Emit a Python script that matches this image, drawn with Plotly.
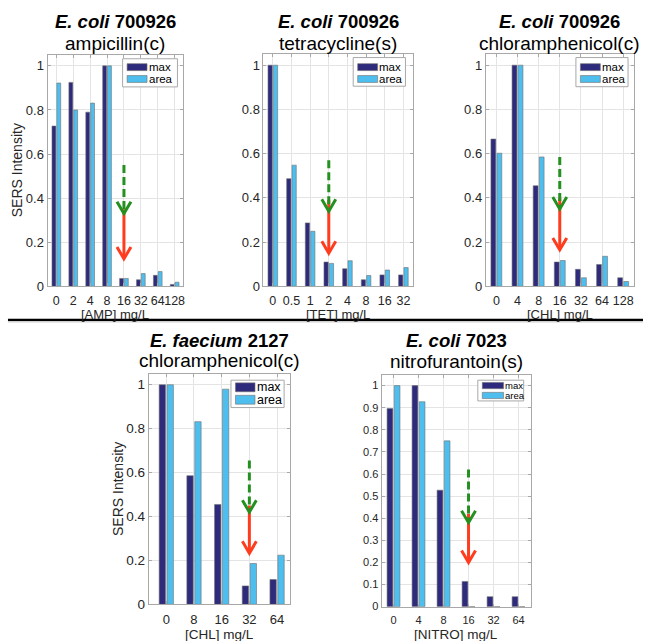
import plotly.graph_objects as go

W, H = 645, 641
FONT = "Liberation Sans, Arial, Helvetica, sans-serif"

# ---------------- data ----------------
amp_conc = ["0", "2", "4", "8", "16", "32", "64", "128"]
amp_max = [0.727, 0.925, 0.79, 1.0, 0.036, 0.03, 0.05, 0.009]
amp_area = [0.922, 0.80, 0.831, 1.0, 0.036, 0.058, 0.067, 0.019]

tet_conc = ["0", "0.5", "1", "2", "4", "8", "16", "32"]
tet_max = [1.0, 0.487, 0.287, 0.11, 0.08, 0.03, 0.052, 0.052]
tet_area = [1.0, 0.548, 0.249, 0.104, 0.116, 0.049, 0.074, 0.085]

chl_conc = ["0", "4", "8", "16", "32", "64", "128"]
chl_max = [0.666, 1.0, 0.455, 0.11, 0.077, 0.099, 0.039]
chl_area = [0.602, 1.0, 0.585, 0.117, 0.039, 0.136, 0.022]

efm_conc = ["0", "8", "16", "32", "64"]
efm_max = [1.0, 0.586, 0.455, 0.084, 0.113]
efm_area = [1.0, 0.832, 0.98, 0.186, 0.224]

nit_conc = ["0", "4", "8", "16", "32", "64"]
nit_max = [0.896, 1.0, 0.527, 0.114, 0.045, 0.045]
nit_area = [1.0, 0.927, 0.75, 0.0, 0.0, 0.0]

yticks_coarse = [0, 0.2, 0.4, 0.6, 0.8, 1]
yticklabels_coarse = ["0", "0.2", "0.4", "0.6", "0.8", "1"]
yticks_fine = [0, 0.1, 0.2, 0.3, 0.4, 0.5, 0.6, 0.7, 0.8, 0.9, 1]
yticklabels_fine = ["0", "0.1", "0.2", "0.3", "0.4", "0.5", "0.6", "0.7", "0.8", "0.9", "1"]

# breakpoint arrows: (category, green start, green tip, red start, red tip)
amp_arrow = ("16", 0.55, 0.33, 0.35, 0.125)
tet_arrow = ("2", 0.57, 0.34, 0.39, 0.15)
chl_arrow = ("16", 0.585, 0.35, 0.40, 0.165)
efm_arrow = ("32", 0.655, 0.42, 0.45, 0.233)
nit_arrow = ("16", 0.62, 0.38, 0.42, 0.20)

series_names = ["max", "area"]

# ---------------- styling / layout ----------------
C_MAX = "#2e2a7c"
C_AREA = "#4dbeee"
C_EDGE = "#707070"
C_GREEN = "#23901f"
C_RED = "#ff3c1e"
GRID = "#e4e4e4"
BOX = "#a8a8a8"
TICKC = "#262626"

panels = [
    dict(species="E. coli", strain="700926", drug="ampicillin(c)", xlabel="[AMP] mg/L",
         conc=amp_conc, vmax=amp_max, varea=amp_area, arrow=amp_arrow,
         box=(47.7, 55.5, 184.0, 290.0), xr=(0.48, 8.52), xtf=12.5, ytf=13,
         yt=yticks_coarse, ytl=yticklabels_coarse, ylabel=True,
         t1=21.4, t2=44.2, xl=310.0, xlf=13,
         leg=dict(x0=123, y0=59.5, w=55, h=28.5, sw=20, sh=7, s1=64.5, s2=76.5, fs=11.5)),
    dict(species="E. coli", strain="700926", drug="tetracycline(s)", xlabel="[TET] mg/L",
         conc=tet_conc, vmax=tet_max, varea=tet_area, arrow=tet_arrow,
         box=(264.3, 54.8, 414.0, 290.0), xr=(0.5, 8.5), xtf=12.5, ytf=13,
         yt=yticks_coarse, ytl=yticklabels_coarse, ylabel=False,
         t1=21.4, t2=44.2, xl=310.0, xlf=13,
         leg=dict(x0=354.3, y0=58.3, w=52.4, h=29, sw=20, sh=7, s1=64.5, s2=76.5, fs=11.5)),
    dict(species="E. coli", strain="700926", drug="chloramphenicol(c)", xlabel="[CHL] mg/L",
         conc=chl_conc, vmax=chl_max, varea=chl_area, arrow=chl_arrow,
         box=(487.3, 54.8, 635.7, 290.0), xr=(0.5, 7.5), xtf=12.5, ytf=13,
         yt=yticks_coarse, ytl=yticklabels_coarse, ylabel=False,
         t1=21.4, t2=44.2, xl=310.0, xlf=13,
         leg=dict(x0=577.7, y0=58.3, w=52.3, h=29.5, sw=20, sh=7, s1=64.5, s2=76.5, fs=11.5)),
    dict(species="E. faecium", strain="2127", drug="chloramphenicol(c)", xlabel="[CHL] mg/L",
         conc=efm_conc, vmax=efm_max, varea=efm_area, arrow=efm_arrow,
         box=(149.3, 378.5, 290.7, 612.0), xr=(0.37, 5.46), xtf=13, ytf=13.5,
         yt=yticks_coarse, ytl=yticklabels_coarse, ylabel=True,
         t1=344.5, t2=365.5, xl=633.5, xlf=13.5,
         leg=dict(x0=231.7, y0=385, w=53.3, h=27.7, sw=19.6, sh=9, s1=387.7, s2=400.3, fs=12.5)),
    dict(species="E. coli", strain="7023", drug="nitrofurantoin(s)", xlabel="[NITRO] mg/L",
         conc=nit_conc, vmax=nit_max, varea=nit_area, arrow=nit_arrow,
         box=(382.7, 379.3, 532.7, 614.3), xr=(0.52, 6.5), xtf=11, ytf=11,
         yt=yticks_fine, ytl=yticklabels_fine, ylabel=False,
         t1=344.5, t2=366.5, xl=633.5, xlf=13.5,
         leg=dict(x0=479.3, y0=385, w=46, h=21, sw=21.3, sh=6.3, s1=387.3, s2=397.3, fs=9.5)),
]

YMAX = 1.05
BAR_W = 0.23
OFFSETS = [-0.257, 0.028]


def fx(px):
    return px / W


def fy(py):
    return 1 - py / H


fig = go.Figure()
shapes = []
annotations = []
layout_axes = {}

for i, p in enumerate(panels):
    k = "" if i == 0 else str(i + 1)
    xa, ya = "x" + k, "y" + k
    x0, y0, x1, y1 = p["box"]
    pos = list(range(1, len(p["conc"]) + 1))

    for name, vals, color, off in zip(series_names, (p["vmax"], p["varea"]),
                                      (C_MAX, C_AREA), OFFSETS):
        fig.add_trace(go.Bar(
            x=pos, y=vals, name=name, width=BAR_W, offset=off,
            marker=dict(color=color, line=dict(color=C_EDGE, width=0.6)),
            xaxis=xa, yaxis=ya, showlegend=False,
        ))

    common = dict(showline=True, linecolor=BOX, linewidth=1, mirror="ticks",
                  showgrid=True, gridcolor=GRID, gridwidth=1, zeroline=False,
                  ticks="inside", ticklen=3, tickcolor=BOX)
    layout_axes["xaxis" + k] = dict(
        domain=[fx(x0), fx(x1)], range=list(p["xr"]), anchor=ya,
        tickmode="array", tickvals=pos, ticktext=p["conc"], tickangle=0,
        ticklabelstandoff=3,
        tickfont=dict(family=FONT, size=p["xtf"], color=TICKC), **common)
    layout_axes["yaxis" + k] = dict(
        domain=[fy(y1), fy(y0)], range=[0, YMAX], anchor=xa,
        tickmode="array", tickvals=p["yt"], ticktext=p["ytl"],
        tickfont=dict(family=FONT, size=p["ytf"], color=TICKC), **common)

    # titles
    cx = fx((x0 + x1) / 2)
    annotations.append(dict(
        text=f"<b><i>{p['species']}</i> {p['strain']}</b>", x=cx, y=fy(p["t1"]),
        xref="paper", yref="paper", xanchor="center", yanchor="middle",
        showarrow=False, font=dict(family=FONT, size=18.5, color="black")))
    annotations.append(dict(
        text=p["drug"], x=cx, y=fy(p["t2"]),
        xref="paper", yref="paper", xanchor="center", yanchor="middle",
        showarrow=False, font=dict(family=FONT, size=19, color="black")))
    # x label (top edge of text box given)
    annotations.append(dict(
        text=p["xlabel"], x=cx, y=fy(p["xl"]),
        xref="paper", yref="paper", xanchor="center", yanchor="top",
        showarrow=False, borderpad=0, font=dict(family=FONT, size=p["xlf"], color=TICKC)))
    # y label
    if p["ylabel"]:
        annotations.append(dict(
            text="SERS Intensity", x=fx(x0 - 31), y=fy((y0 + y1) / 2),
            xref="paper", yref="paper", xanchor="center", yanchor="middle",
            textangle=-90, showarrow=False,
            font=dict(family=FONT, size=14, color=TICKC)))

    # legend box
    lg = p["leg"]
    shapes.append(dict(type="rect", xref="paper", yref="paper",
                       x0=fx(lg["x0"]), x1=fx(lg["x0"] + lg["w"]),
                       y0=fy(lg["y0"] + lg["h"]), y1=fy(lg["y0"]),
                       fillcolor="white", line=dict(color=BOX, width=1), layer="above"))
    sx0 = lg["x0"] + 4.5
    for name, color, sy in zip(series_names, (C_MAX, C_AREA), (lg["s1"], lg["s2"])):
        shapes.append(dict(type="rect", xref="paper", yref="paper",
                           x0=fx(sx0), x1=fx(sx0 + lg["sw"]),
                           y0=fy(sy + lg["sh"]), y1=fy(sy),
                           fillcolor=color, line=dict(color=C_EDGE, width=0.6),
                           layer="above"))
        annotations.append(dict(
            text=name, x=fx(sx0 + lg["sw"] + 0.5), y=fy(sy + lg["sh"] / 2),
            xref="paper", yref="paper", xanchor="left", yanchor="middle",
            showarrow=False, borderpad=0,
            font=dict(family=FONT, size=lg["fs"], color="black")))

    # breakpoint arrows (red solid below, green dashed above)
    cat, g_top, g_tip, r_top, r_tip = p["arrow"]
    ax_x = pos[p["conc"].index(cat)]
    ppx = (x1 - x0) / (p["xr"][1] - p["xr"][0])
    ppy = (y1 - y0) / YMAX
    hx, hy = 7.0 / ppx, 12.0 / ppy
    for top, tip, color, dash in ((r_top, r_tip, C_RED, "solid"),
                                  (g_top, g_tip, C_GREEN, "8px,4px")):
        shapes.append(dict(type="line", xref=xa, yref=ya, x0=ax_x, x1=ax_x,
                           y0=top, y1=tip + 0.01, line=dict(color=color, width=3, dash=dash),
                           layer="above"))
        shapes.append(dict(type="path", xref=xa, yref=ya,
                           path=f"M {ax_x - hx},{tip + hy} L {ax_x},{tip} L {ax_x + hx},{tip + hy}",
                           line=dict(color=color, width=3), layer="above"))

# separator between the two rows
shapes.append(dict(type="line", xref="paper", yref="paper",
                   x0=fx(8), x1=1, y0=fy(325.5), y1=fy(325.5),
                   line=dict(color="#d0d0d0", width=2)))
shapes.append(dict(type="line", xref="paper", yref="paper",
                   x0=fx(8), x1=1, y0=fy(324), y1=fy(324),
                   line=dict(color="black", width=2.2)))

fig.update_layout(
    width=W, height=H, margin=dict(l=0, r=0, t=0, b=0),
    paper_bgcolor="white", plot_bgcolor="white",
    barmode="overlay", showlegend=False,
    shapes=shapes, annotations=annotations,
    font=dict(family=FONT),
    **layout_axes,
)

fig.write_html("out.html")
